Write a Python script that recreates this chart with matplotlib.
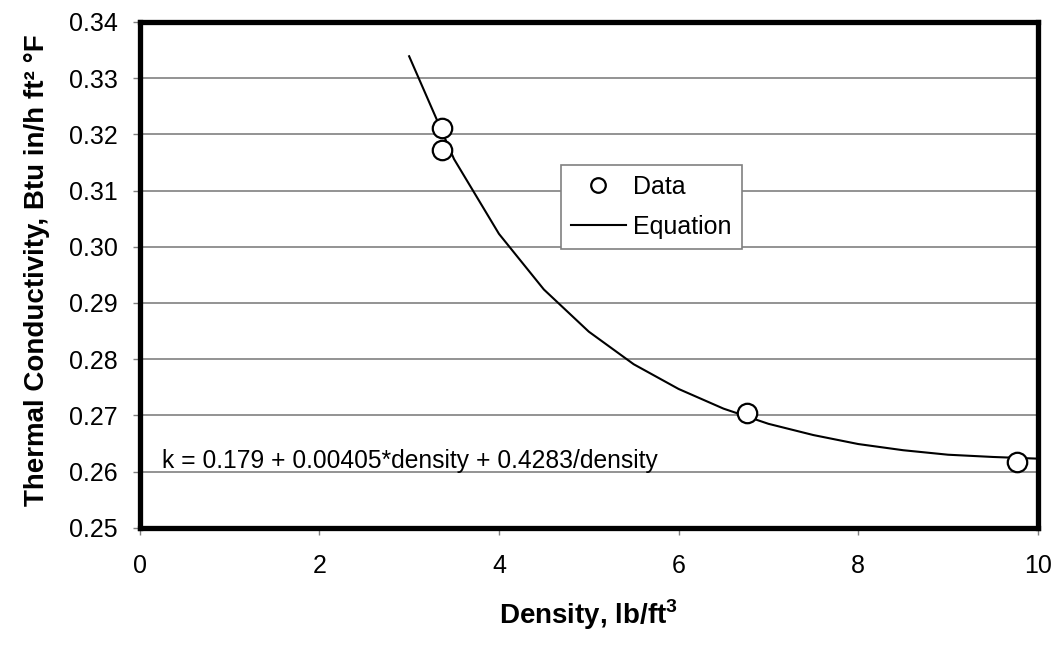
import matplotlib.pyplot as plt

plt.rcParams['font.family'] = ['Liberation Sans', 'DejaVu Sans']
plt.rcParams['mathtext.fontset'] = 'custom'
plt.rcParams['mathtext.rm'] = 'Liberation Sans'
plt.rcParams['mathtext.bf'] = 'Liberation Sans:bold'

# measured points
data_x = [3.37, 3.37, 6.76, 9.77]
data_y = [0.3211, 0.3173, 0.2705, 0.2617]

# fitted curve as drawn (sampled every 0.5)
eq_x = [3.0, 3.5, 4.0, 4.5, 5.0, 5.5, 6.0, 6.5, 7.0, 7.5, 8.0, 8.5, 9.0, 9.5, 10.0]
eq_y = [0.3339, 0.3156, 0.3023, 0.2924, 0.2849, 0.2791, 0.2747, 0.2712,
        0.2685, 0.2665, 0.2649, 0.2638, 0.2630, 0.2626, 0.2623]

fig = plt.figure(figsize=(10.58, 6.46), dpi=100)
ax = fig.add_axes([0.132, 0.183, 0.849, 0.783])

ax.plot(eq_x, eq_y, color='black', lw=1.5, label='Equation', zorder=3)
ax.plot(data_x, data_y, 'o', ms=14, mfc='white', mec='black', mew=1.6,
        label='Data', zorder=4)

ax.set_xlim(0, 10)
ax.set_ylim(0.25, 0.34)
ax.set_xticks([0, 2, 4, 6, 8, 10])
ax.set_yticks([0.25 + 0.01 * i for i in range(10)])
ax.set_yticklabels(['%.2f' % (0.25 + 0.01 * i) for i in range(10)])
ax.yaxis.grid(True, color='#808080', lw=1.2)
ax.set_axisbelow(True)
ax.tick_params(labelsize=18, length=5, width=1, color='#808080', pad=11)
ax.tick_params(axis='x', pad=14)

for s in ax.spines.values():
    s.set_linewidth(3.8)
    s.set_color('black')

ax.set_xlabel('Density, lb/ft$^\\mathbf{3}$', fontsize=20, fontweight='bold', labelpad=14)
ax.set_ylabel('Thermal Conductivity, Btu in/h ft² °F', fontsize=20, fontweight='bold', labelpad=16)
ax.yaxis.set_label_coords(-0.1, 0.51)

ax.text(0.25, 0.2618, 'k = 0.179 + 0.00405*density + 0.4283/density',
        fontsize=17.7, va='center')

h, l = ax.get_legend_handles_labels()
leg = ax.legend(h[::-1], l[::-1], loc='upper left', bbox_to_anchor=(0.469, 0.717),
                fontsize=18, fancybox=False, framealpha=1, edgecolor='#808080',
                handlelength=2.2, handletextpad=0.3, borderpad=0.4, labelspacing=0.62,
                markerscale=0.75, borderaxespad=0)
leg.get_frame().set_linewidth(1.2)

fig.savefig('out.png', dpi=100)
